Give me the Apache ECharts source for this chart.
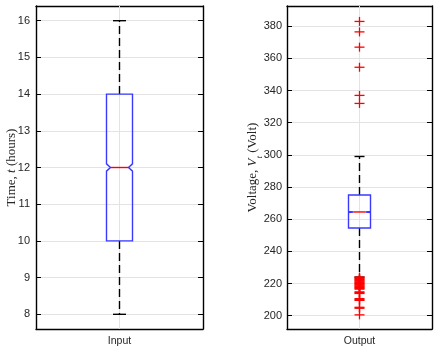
<!DOCTYPE html>
<html>
<head>
<meta charset="utf-8">
<script src="https://cdn.jsdelivr.net/npm/echarts@6/dist/echarts.min.js"></script>
<style>
  html, body { margin: 0; padding: 0; background: #fff; }
  #main { width: 443px; height: 351px; }
</style>
</head>
<body>
<div id="main"></div>
<script>
// data
const inputCategories = ['Input'];
const outputCategories = ['Output'];
// [lower whisker, q1, median, q3, upper whisker]
const inputBox = [8, 10, 12, 14, 16];
const inputNotch = [11.9, 12.1];
const outputBox = [224, 254.5, 264.5, 275, 299];
const outputNotch = [264.2, 264.8];
const outputOutliers = [383, 376.5, 367, 354.5, 337, 332,
  224, 223.5, 223, 222.5, 222, 221.5, 221, 220.5, 220, 219.5, 219, 218.5, 218,
  217.5, 217, 216.5, 214.8, 214.3, 213.8, 210.6, 210, 209.5, 205.2, 204.6, 200.5];
const inputTicks = [8, 9, 10, 11, 12, 13, 14, 15, 16];
const outputTicks = [200, 220, 240, 260, 280, 300, 320, 340, 360, 380];

const chart = echarts.init(document.getElementById('main'));

// 画带缺口的箱线
function boxRenderer(halfW, capW, inset, notch) {
  return function (params, api) {
    const c = api.value(0);
    const lo = api.coord([c, api.value(1)]);
    const q1 = api.coord([c, api.value(2)]);
    const md = api.coord([c, api.value(3)]);
    const q3 = api.coord([c, api.value(4)]);
    const hi = api.coord([c, api.value(5)]);
    const nLo = api.coord([c, notch[0]]);
    const nHi = api.coord([c, notch[1]]);
    const x = md[0];
    const cs = params.coordSys;
    const dash = { stroke: '#000', lineWidth: 1.4, lineDash: [8, 4] };
    const solid = { stroke: '#000', lineWidth: 1.4 };
    return {
      type: 'group',
      children: [
        // 中间的竖网格线
        { type: 'line', shape: { x1: x, y1: cs.y, x2: x, y2: cs.y + cs.height }, style: { stroke: '#e3e3e3', lineWidth: 1 } },
        { type: 'line', shape: { x1: x, y1: q3[1], x2: x, y2: hi[1] }, style: dash },
        { type: 'line', shape: { x1: x, y1: q1[1], x2: x, y2: lo[1] }, style: dash },
        { type: 'line', shape: { x1: x - capW, y1: hi[1], x2: x + capW, y2: hi[1] }, style: solid },
        { type: 'line', shape: { x1: x - capW, y1: lo[1], x2: x + capW, y2: lo[1] }, style: solid },
        {
          type: 'polygon',
          shape: {
            points: [
              [x - halfW, q3[1]], [x + halfW, q3[1]], [x + halfW, nHi[1]],
              [x + halfW - inset, md[1]], [x + halfW, nLo[1]], [x + halfW, q1[1]],
              [x - halfW, q1[1]], [x - halfW, nLo[1]], [x - halfW + inset, md[1]],
              [x - halfW, nHi[1]]
            ]
          },
          style: { fill: 'none', stroke: '#3a3aff', lineWidth: 1.4 }
        },
        { type: 'line', shape: { x1: x - halfW + inset, y1: md[1], x2: x + halfW - inset, y2: md[1] }, style: { stroke: '#ff0000', lineWidth: 1.4 } }
      ]
    };
  };
}

function plusRenderer(params, api) {
  const p = api.coord([api.value(0), api.value(1)]);
  const st = { stroke: '#ff0000', lineWidth: 1.3 };
  return {
    type: 'group',
    children: [
      { type: 'line', shape: { x1: p[0] - 5, y1: p[1], x2: p[0] + 5, y2: p[1] }, style: st },
      { type: 'line', shape: { x1: p[0], y1: p[1] - 4.5, x2: p[0], y2: p[1] + 4.5 }, style: st }
    ]
  };
}

const tickFont = { color: '#262626', fontSize: 11, fontFamily: 'Liberation Sans' };
const frameLine = { show: true, lineStyle: { color: '#000', width: 1.4 } };

function xAxisDef(grid, cats, pos) {
  return {
    type: 'category', gridIndex: grid, data: cats, position: pos,
    axisLine: frameLine,
    axisTick: { show: true, inside: true, alignWithLabel: true, length: 5, lineStyle: { color: '#000' } },
    axisLabel: pos === 'bottom' ? Object.assign({ margin: 7 }, tickFont, { fontSize: 10.5 }) : { show: false },
    splitLine: { show: false }
  };
}

function yAxisDef(grid, min, max, ticks, pos, nameOpt) {
  const ax = {
    type: 'value', gridIndex: grid, min: min, max: max, position: pos,
    axisLine: frameLine,
    axisTick: { show: true, inside: true, length: 5, customValues: ticks, lineStyle: { color: '#000' } },
    axisLabel: pos === 'left' ? Object.assign({ customValues: ticks }, tickFont, { margin: nameOpt.margin }) : { show: false, customValues: ticks },
    splitLine: { show: pos === 'left', lineStyle: { color: '#e3e3e3', width: 1 } }
  };
  if (pos === 'left') {
    ax.name = nameOpt.name;
    ax.nameLocation = 'middle';
    ax.nameGap = nameOpt.gap;
    ax.nameMoveOverlap = false;
    ax.nameTextStyle = {
      color: '#262626', fontFamily: 'Liberation Serif', fontSize: 13,
      rich: {
        a: { fontFamily: 'Liberation Serif', fontSize: 13, color: '#262626', lineHeight: 16 },
        b: { fontFamily: 'Liberation Serif', fontSize: 13, fontStyle: 'italic', color: '#262626', lineHeight: 16 },
        s: { fontFamily: 'Liberation Serif', fontSize: 9, fontStyle: 'italic', color: '#262626', verticalAlign: 'bottom', lineHeight: 16, padding: [0, 0, -3, 0] }
      }
    };
  }
  return ax;
}

const option = {
  animation: false,
  backgroundColor: '#fff',
  grid: [
    { left: 36, top: 6, width: 167, height: 323, outerBoundsMode: 'none' },
    { left: 287, top: 6, width: 145, height: 323, outerBoundsMode: 'none' }
  ],
  xAxis: [
    xAxisDef(0, inputCategories, 'bottom'),
    xAxisDef(0, inputCategories, 'top'),
    xAxisDef(1, outputCategories, 'bottom'),
    xAxisDef(1, outputCategories, 'top')
  ],
  yAxis: [
    yAxisDef(0, 7.6, 16.4, inputTicks, 'left', { name: '{a|Time, }{b|t}{a| (hours)}', gap: 16, margin: 6 }),
    yAxisDef(0, 7.6, 16.4, inputTicks, 'right', {}),
    yAxisDef(1, 191.7, 392.6, outputTicks, 'left', { name: '{a|Voltage, }{b|V}{s|t}{a| (Volt)}', gap: 26, margin: 5 }),
    yAxisDef(1, 191.7, 392.6, outputTicks, 'right', {})
  ],
  series: [
    {
      type: 'custom', xAxisIndex: 0, yAxisIndex: 0,
      renderItem: boxRenderer(13, 6.5, 4, inputNotch),
      encode: { x: 0, y: [1, 2, 3, 4, 5] },
      data: inputCategories.map((c, i) => [i].concat(inputBox))
    },
    {
      type: 'custom', xAxisIndex: 2, yAxisIndex: 2,
      renderItem: boxRenderer(11, 5, 5, outputNotch),
      encode: { x: 0, y: [1, 2, 3, 4, 5] },
      data: outputCategories.map((c, i) => [i].concat(outputBox))
    },
    {
      type: 'custom', xAxisIndex: 2, yAxisIndex: 2,
      renderItem: plusRenderer,
      encode: { x: 0, y: 1 },
      data: outputOutliers.map(v => [0, v])
    }
  ]
};
chart.setOption(option);
</script>
</body>
</html>
